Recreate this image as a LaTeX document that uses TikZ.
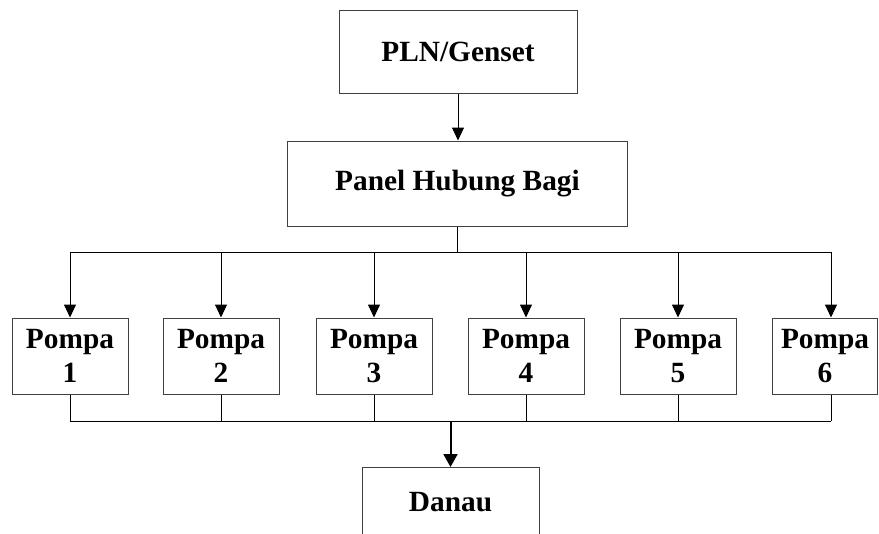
\documentclass[tikz,border=0pt]{standalone}
\usepackage{fontspec}
\setmainfont{Liberation Serif}
\usetikzlibrary{arrows.meta,calc}
\begin{document}
\begin{tikzpicture}[x=0.75pt,y=-0.75pt,
  box/.style={draw=black!75, line width=0.75pt, inner sep=0pt, align=center,
    font=\fontsize{22}{26}\selectfont\bfseries},
  pompa/.style={box, minimum width=87pt, minimum height=57pt},
  conn/.style={draw=black, line width=0.75pt},
  arr/.style={conn, -{Triangle[width=9pt,length=9.75pt]}},
  bigarr/.style={draw=black, line width=1.5pt, -{Triangle[width=10.5pt,length=9.75pt]}}]
\useasboundingbox (0,0) rectangle (879,533);
\clip (0,0) rectangle (879,533);

\node[box, minimum width=178.5pt, minimum height=62.25pt] (pln) at (458,51.5) {PLN/Genset};
\node[box, minimum width=255pt, minimum height=63.75pt] (panel) at (457.5,183.5) {Panel Hubung Bagi};

\node[pompa] (p1) at (70,356) {Pompa\\1};
\node[pompa] (p2) at (221,356) {Pompa\\2};
\node[pompa] (p3) at (374,356) {Pompa\\3};
\node[pompa] (p4) at (526,356) {Pompa\\4};
\node[pompa] (p5) at (678,356) {Pompa\\5};
\node[box, minimum width=78.75pt, minimum height=57pt] (p6) at (825,356) {Pompa\\6};

\node[box, minimum width=132.75pt, minimum height=52.5pt, anchor=north] (danau) at (450.5,467) {Danau};

\coordinate (topbus) at (0,252);
\coordinate (botbus) at (0,421);
\coordinate (p6a) at ($(p6.north)+(6,0)$);
\coordinate (p6b) at ($(p6.south)+(6,0)$);

\draw[arr] (pln.south) -- (pln.south |- panel.north);
\draw[conn] (panel.south) -- (panel.south |- topbus);
\draw[conn] (p1.north |- topbus) -- (p6a |- topbus);
\foreach \p in {p1,p2,p3,p4,p5}{
  \draw[arr] (\p.north |- topbus) -- (\p.north);
  \draw[conn] (\p.south) -- (\p.south |- botbus);
}
\draw[arr] (p6a |- topbus) -- (p6a);
\draw[conn] (p6b) -- (p6b |- botbus);
\draw[conn] (p1.south |- botbus) -- (p6b |- botbus);
\draw[bigarr] (danau.north |- botbus) -- (danau.north);
\end{tikzpicture}
\end{document}
